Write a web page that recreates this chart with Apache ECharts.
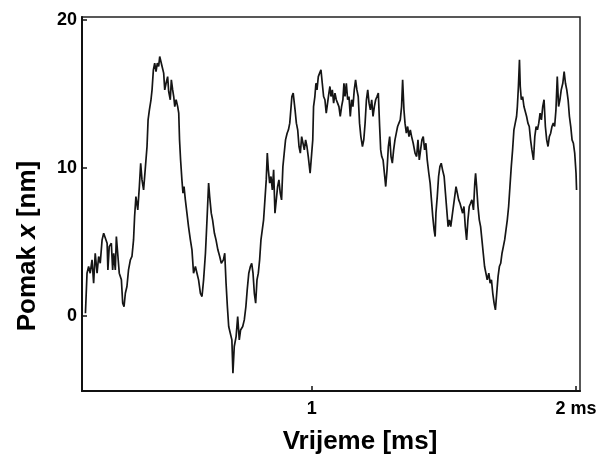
<!DOCTYPE html>
<html>
<head>
<meta charset="utf-8">
<script src="https://cdn.jsdelivr.net/npm/echarts@6/dist/echarts.min.js"></script>
<style>html,body{margin:0;padding:0;background:#fff;}#c{width:610px;height:458px;}</style>
</head>
<body>
<div id="c"></div>
<script>
const time = [
0.144,0.150,0.156,0.162,0.169,0.175,0.181,0.188,0.194,0.200,
0.207,0.213,0.219,0.226,0.229,0.234,0.242,0.247,0.251,0.257,
0.261,0.267,0.272,0.280,0.285,0.290,0.295,0.301,0.307,0.314,
0.320,0.326,0.330,0.335,0.342,0.348,0.353,0.358,0.364,0.371,
0.377,0.381,0.386,0.392,0.396,0.401,0.406,0.411,0.416,0.421,
0.425,0.429,0.434,0.440,0.444,0.449,0.455,0.459,0.465,0.469,
0.474,0.478,0.482,0.487,0.493,0.497,0.500,0.504,0.509,0.513,
0.517,0.522,0.528,0.534,0.541,0.547,0.553,0.560,0.566,0.572,
0.579,0.585,0.591,0.598,0.601,0.605,0.610,0.614,0.620,0.625,
0.632,0.638,0.645,0.652,0.658,0.666,0.671,0.676,0.681,0.686,
0.692,0.698,0.702,0.707,0.714,0.720,0.726,0.731,0.739,0.745,
0.751,0.756,0.762,0.768,
0.773,0.778,0.783,0.788,0.793,0.798,0.803,0.808,0.813,0.818,
0.823,0.828,0.832,0.836,0.841,0.846,0.851,0.856,0.861,0.866,
0.871,0.876,0.881,0.886,0.891,0.896,0.901,0.907,0.912,0.917,
0.922,0.925,0.930,0.937,0.942,0.947,0.952,0.957,0.962,0.967,
0.972,0.977,0.982,0.987,0.994,1.000,1.004,1.007,1.012,1.016,
1.020,1.025,1.030,1.035,1.040,1.045,1.050,1.055,1.060,1.065,
1.069,1.073,1.078,1.083,1.088,1.093,1.098,1.103,1.108,1.113,
1.118,1.122,1.126,1.131,1.136,1.141,1.146,1.151,1.156,1.161,
1.166,1.171,1.176,1.181,1.186,1.192,1.197,1.202,1.207,1.212,
1.217,1.222,1.227,1.232,1.237,1.242,1.247,1.252,1.257,1.261,
1.265,1.270,1.275,1.280,1.285,1.290,1.295,1.300,1.305,1.310,
1.315,1.320,1.325,1.330,1.335,1.340,1.344,1.349,1.353,1.358,
1.363,1.368,1.373,1.378,1.384,1.391,
1.397,1.402,1.407,1.412,1.417,1.422,1.427,1.432,1.437,1.443,
1.448,1.453,1.458,1.463,1.467,1.470,1.475,1.480,1.485,1.490,
1.495,1.501,1.506,1.511,1.516,1.521,1.526,1.531,1.536,1.541,
1.546,1.551,1.556,1.561,1.566,1.571,1.576,1.581,1.586,1.591,
1.596,1.601,1.606,1.612,1.617,1.620,1.624,1.629,1.634,1.639,
1.644,1.649,1.654,1.659,1.664,1.670,1.675,1.680,1.685,1.690,
1.695,1.700,1.705,1.710,1.715,1.720,1.725,1.730,1.735,1.740,
1.745,1.750,1.755,1.760,1.765,1.770,1.775,1.778,1.782,1.786,
1.789,1.793,1.798,1.803,1.808,1.813,1.818,1.823,1.828,1.833,
1.839,1.844,1.849,1.854,1.859,1.864,1.869,1.874,1.879,1.884,
1.889,1.894,1.899,1.904,1.909,1.914,1.919,1.924,1.929,1.934,
1.939,1.944,1.950,1.955,1.960,1.965,1.970,1.975,1.980,1.985,
1.990,1.995,2.000,2.002
];
const displacement = [
0.16,2.87,3.32,2.87,3.77,2.19,4.22,2.87,4.00,3.54,
5.12,5.57,5.69,4.90,3.09,4.67,4.90,3.09,4.22,3.09,
5.35,4.00,2.87,2.42,0.84,0.61,1.51,1.97,3.09,3.77,
4.00,5.12,6.70,8.05,7.15,8.73,10.31,9.18,8.50,10.08,
11.44,13.24,13.92,14.60,15.27,16.62,17.08,16.51,17.08,16.85,
17.53,17.64,16.85,16.40,15.27,15.72,16.17,15.16,14.60,15.95,
15.27,14.82,14.14,14.60,14.14,13.69,11.89,10.53,9.18,8.28,
8.73,7.83,6.93,6.02,5.12,4.45,2.87,3.32,2.87,2.42,
1.51,1.29,2.42,4.22,5.35,6.93,8.96,8.05,6.93,6.48,
5.57,5.12,4.45,4.00,3.54,3.77,4.22,2.19,0.61,-0.74,
-1.19,-1.64,-3.9,-2.09,-1.42,-0.07,-1.64,-0.97,-0.74,-0.29,
0.61,1.74,2.87,3.32,
3.54,2.87,1.51,0.84,2.42,2.87,3.77,5.12,5.80,6.48,
7.83,9.18,10.99,9.86,8.96,9.41,8.50,9.86,6.93,7.83,
8.73,9.18,8.28,7.83,10.08,10.99,11.89,12.34,12.57,13.02,
14.14,14.82,15.05,13.92,13.02,12.57,11.44,10.99,12.11,11.66,
11.21,11.89,11.44,10.76,9.63,10.99,11.89,14.14,14.82,15.72,
15.27,16.17,16.40,16.62,15.72,14.82,14.60,13.69,14.37,15.05,
15.50,14.82,15.27,14.37,15.05,14.60,14.37,14.14,13.47,14.14,
14.60,15.72,14.82,15.72,14.60,14.82,13.47,14.60,14.14,15.27,
15.95,15.27,14.82,13.02,12.11,11.44,11.89,13.02,14.60,15.27,
14.37,13.92,14.60,13.47,14.14,14.60,14.82,15.05,12.79,11.21,
10.76,10.53,9.63,8.73,9.86,11.44,12.11,10.76,10.31,11.21,
11.89,12.34,12.79,13.02,13.24,14.14,15.95,13.92,13.02,12.34,
12.79,12.11,12.57,12.11,11.66,10.99,
10.76,11.89,10.53,11.21,11.89,12.11,11.21,11.66,10.53,9.63,
8.96,7.83,6.70,5.80,5.35,6.93,8.05,9.41,10.08,10.31,
9.86,9.41,8.28,7.15,6.02,6.48,6.02,6.70,7.38,8.05,
8.73,8.28,7.83,7.60,7.60,6.93,7.38,6.02,5.12,6.48,
7.38,7.60,7.83,7.15,8.96,9.63,8.73,7.38,6.48,6.02,
5.12,4.22,3.32,2.87,2.42,2.87,2.19,2.42,1.51,0.84,
0.39,1.51,2.64,3.32,3.54,4.22,4.67,5.12,5.80,6.48,
7.38,8.73,10.08,11.21,12.57,13.02,13.47,14.14,15.50,17.30,
15.50,14.60,14.82,14.14,14.14,13.47,13.02,12.79,11.89,11.21,
10.53,12.11,12.79,12.57,13.02,13.69,13.24,14.14,14.60,12.79,
11.89,11.44,12.11,12.34,12.79,13.02,12.79,13.92,16.17,14.14,
14.60,15.27,15.72,16.51,15.72,15.27,14.60,13.47,12.79,11.89,
11.66,10.99,9.63,8.50
];
const xTicks = [1, 2];
const xTickLabels = ['1', '2 ms'];
const yTicks = [0, 10, 20];
const yTickLabels = ['0', '10', '20'];

const FONT = 'Liberation Sans, Arial, sans-serif';
const data = time.map((t, i) => [t, displacement[i]]);

const chart = echarts.init(document.getElementById('c'), null, {renderer: 'canvas'});
chart.setOption({
  animation: false,
  backgroundColor: '#fff',
  grid: {left: 82, top: 17, right: 30, bottom: 67, show: true, borderColor: '#222', borderWidth: 1.5, outerBoundsMode: 'none'},
  xAxis: {
    type: 'value', min: 0.131, max: 2.015,
    axisLine: {show: true, onZero: false, lineStyle: {color: '#111', width: 2}},
    axisTick: {show: true, inside: true, length: 5, customValues: xTicks, lineStyle: {color: '#111', width: 1.5}},
    axisLabel: {customValues: xTicks, formatter: v => xTickLabels[xTicks.indexOf(v)], margin: 9,
      fontFamily: FONT, fontWeight: 'bold', fontSize: 18, color: '#000'},
    splitLine: {show: false}
  },
  yAxis: {
    type: 'value', min: -5.1, max: 20.2,
    axisLine: {show: true, onZero: false, lineStyle: {color: '#111', width: 2}},
    axisTick: {show: true, inside: true, length: 5, customValues: yTicks, lineStyle: {color: '#111', width: 1.5}},
    axisLabel: {customValues: yTicks, formatter: v => yTickLabels[yTicks.indexOf(v)], margin: 5,
      fontFamily: FONT, fontWeight: 'bold', fontSize: 18, color: '#000'},
    splitLine: {show: false}
  },
  graphic: [
    {type: 'text', x: 360, y: 442, style: {text: 'Vrijeme [ms]', fontFamily: FONT, fontWeight: 'bold', fontSize: 26, fill: '#000', align: 'center', verticalAlign: 'middle'}},
    {type: 'text', x: 28, y: 246, rotation: Math.PI / 2, style: {
      text: '{a|Pomak }{b|x}{a| [nm]}', align: 'center', verticalAlign: 'middle',
      rich: {
        a: {fontFamily: FONT, fontWeight: 'bold', fontSize: 26, fill: '#000'},
        b: {fontFamily: FONT, fontWeight: 'bold', fontStyle: 'italic', fontSize: 26, fill: '#000'}
      }
    }}
  ],
  series: [{
    type: 'line', data: data, showSymbol: false, smooth: false,
    lineStyle: {color: '#151515', width: 1.7}
  }]
});
</script>
</body>
</html>
